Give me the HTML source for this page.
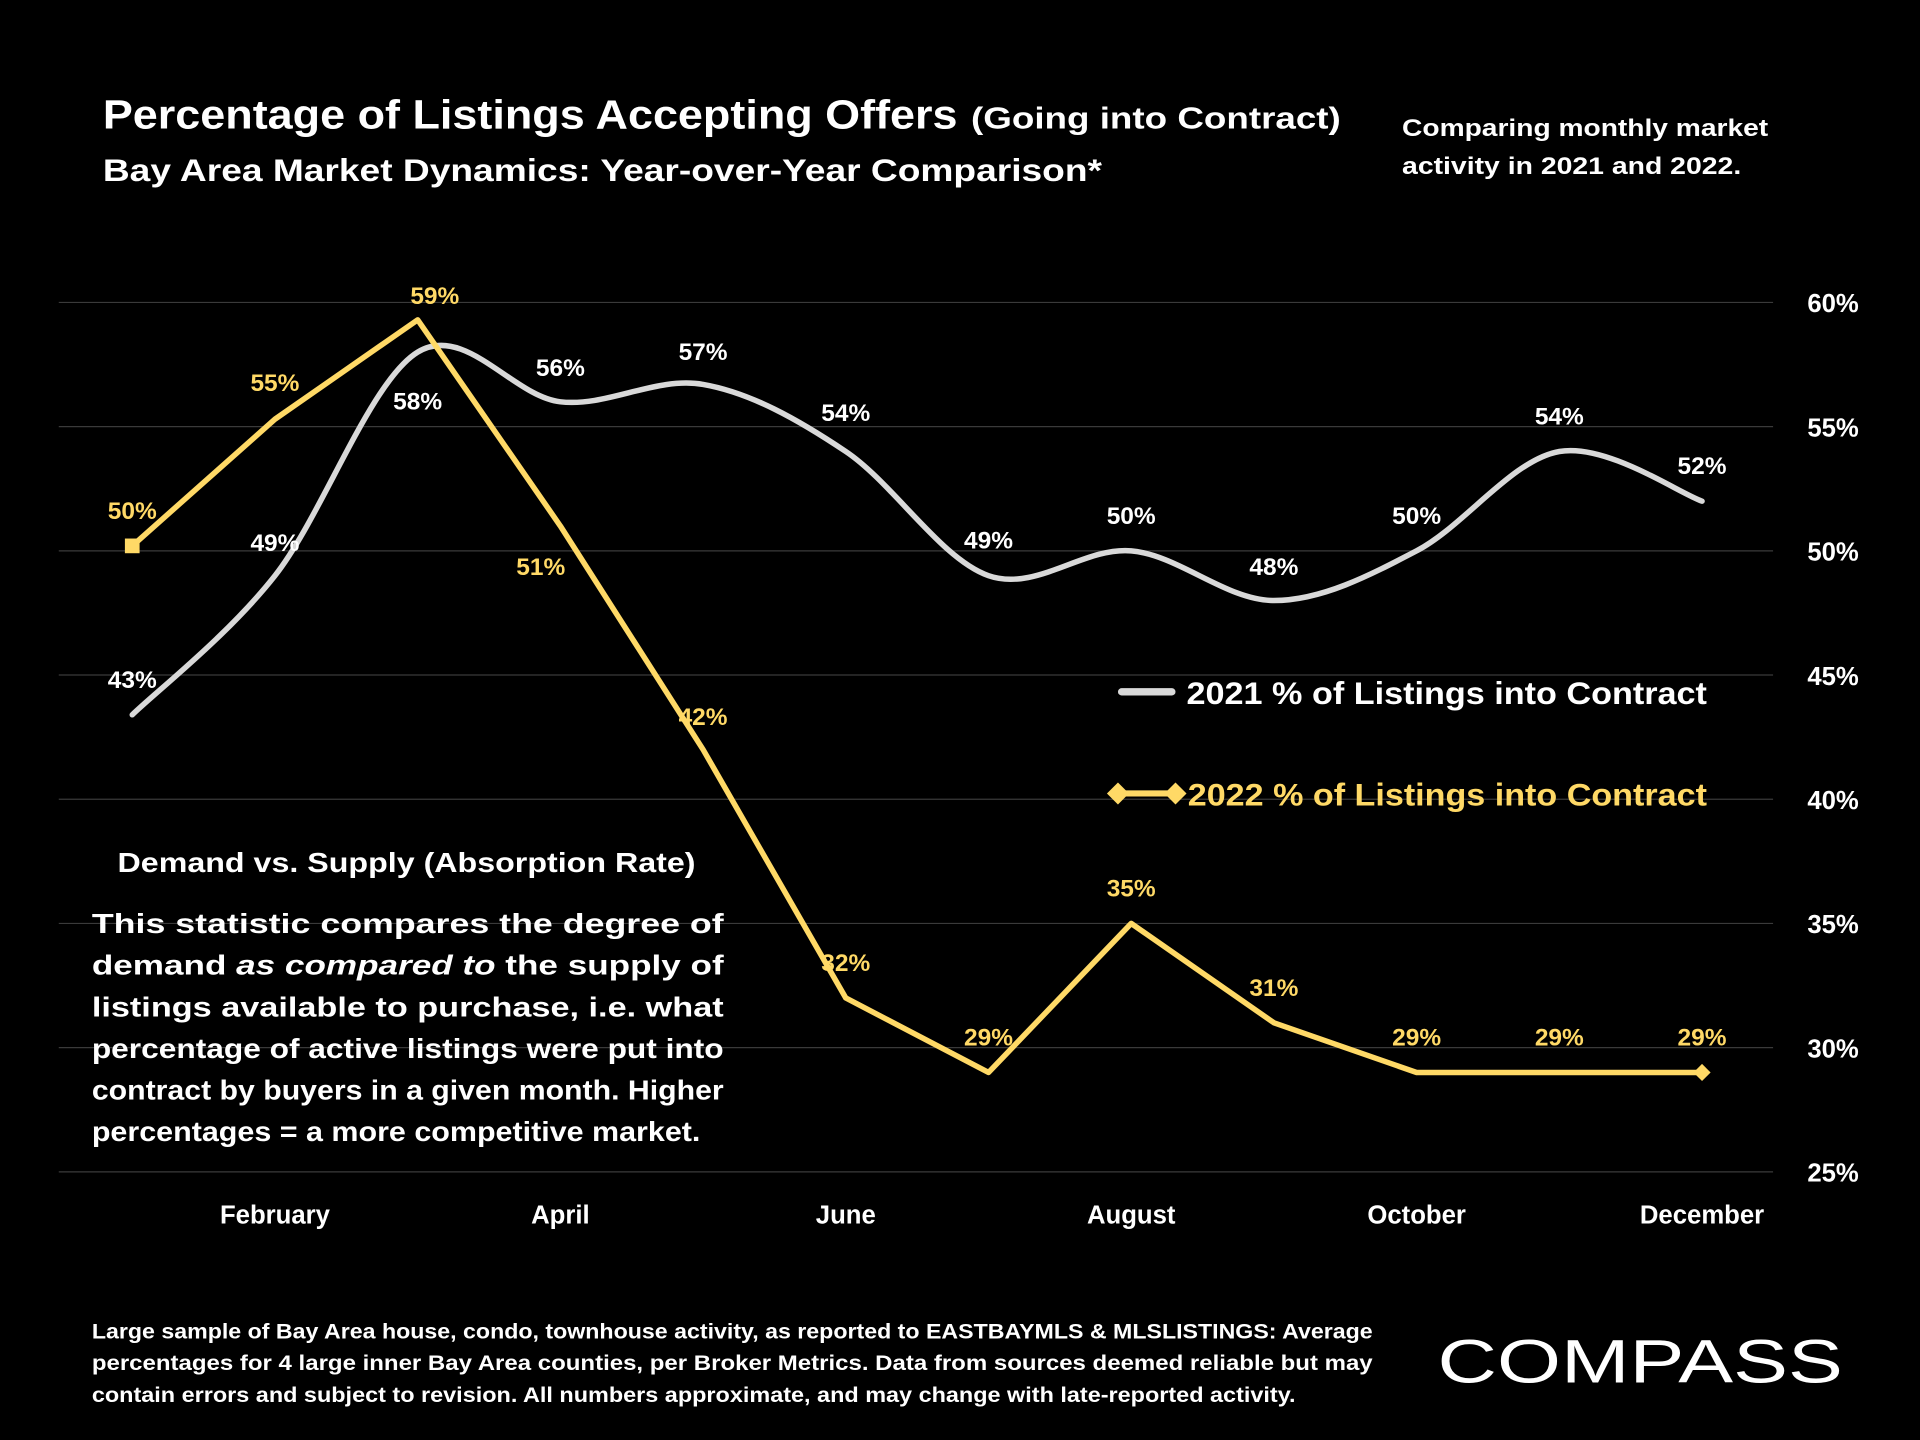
<!DOCTYPE html>
<html><head><meta charset="utf-8"><style>
html,body{margin:0;padding:0;background:#000;}
svg{display:block;}
text{font-family:"Liberation Sans",sans-serif;font-weight:bold;}
</style></head><body>
<svg id="chart" width="1920" height="1440" viewBox="0 0 1568 1176" xmlns="http://www.w3.org/2000/svg">
<rect x="0" y="0" width="1568" height="1176" fill="#000"/>
<text x="84" y="105" fill="#fff" font-size="33" textLength="698" lengthAdjust="spacingAndGlyphs">Percentage of Listings Accepting Offers</text>
<text x="793" y="105" fill="#fff" font-size="25" textLength="302" lengthAdjust="spacingAndGlyphs">(Going into Contract)</text>
<text x="84" y="148" fill="#fff" font-size="26" textLength="816" lengthAdjust="spacingAndGlyphs">Bay Area Market Dynamics: Year-over-Year Comparison*</text>
<text fill="#fff" font-size="20"><tspan x="1145" y="111" textLength="299" lengthAdjust="spacingAndGlyphs">Comparing monthly market</tspan><tspan x="1145" y="142" textLength="277" lengthAdjust="spacingAndGlyphs">activity in 2021 and 2022.</tspan></text>
<g id="grid"></g>
<g id="yaxis"></g>
<g id="xaxis"></g>
<g id="series"></g>
<g id="labels"></g>
<g>
<g>
<line x1="916" y1="565" x2="957" y2="565" stroke="#d9d9d9" stroke-width="6" stroke-linecap="round"/>
<text x="969" y="575" fill="#fff" font-size="26" textLength="425" lengthAdjust="spacingAndGlyphs">2021 % of Listings into Contract</text>
</g>
<g>
<line x1="913" y1="648" x2="960" y2="648" stroke="#ffd966" stroke-width="5"/>
<polygon points="904,648 913,639 922,648 913,657" fill="#ffd966"/>
<polygon points="951,648 960,639 969,648 960,657" fill="#ffd966"/>
<text x="970" y="658" fill="#ffd966" font-size="26" textLength="424" lengthAdjust="spacingAndGlyphs">2022 % of Listings into Contract</text>
</g>
</g>
<text x="96" y="712" fill="#fff" font-size="23" textLength="472" lengthAdjust="spacingAndGlyphs">Demand vs. Supply (Absorption Rate)</text>
<g fill="#fff" font-size="23">
<text x="75" y="762" textLength="516" lengthAdjust="spacingAndGlyphs">This statistic compares the degree of</text>
<text x="75" y="796" textLength="516" lengthAdjust="spacingAndGlyphs">demand <tspan font-style="italic">as compared to</tspan> the supply of</text>
<text x="75" y="830" textLength="516" lengthAdjust="spacingAndGlyphs">listings available to purchase, i.e. what</text>
<text x="75" y="864" textLength="516" lengthAdjust="spacingAndGlyphs">percentage of active listings were put into</text>
<text x="75" y="898" textLength="516" lengthAdjust="spacingAndGlyphs">contract by buyers in a given month. Higher</text>
<text x="75" y="932" textLength="497" lengthAdjust="spacingAndGlyphs">percentages = a more competitive market.</text>
</g>
<g fill="#fff" font-size="17">
<text x="75" y="1093" textLength="1046" lengthAdjust="spacingAndGlyphs">Large sample of Bay Area house, condo, townhouse activity, as reported to EASTBAYMLS &amp; MLSLISTINGS: Average</text>
<text x="75" y="1119" textLength="1046" lengthAdjust="spacingAndGlyphs">percentages for 4 large inner Bay Area counties, per Broker Metrics. Data from sources deemed reliable but may</text>
<text x="75" y="1145" textLength="983" lengthAdjust="spacingAndGlyphs">contain errors and subject to revision. All numbers approximate, and may change with late-reported activity.</text>
</g>
<text x="1174" y="1129" fill="#fff" font-size="50" style="font-weight:normal" textLength="331" lengthAdjust="spacingAndGlyphs">COMPASS</text>
</svg>
<script>
const months = ['January','February','March','April','May','June','July','August','September','October','November','December'];
const xTickLabels = ['February','April','June','August','October','December'];
const yTicks = [25,30,35,40,45,50,55,60];
const values2021 = [43.4,49,58,56,56.7,54,49,50,48,50,54,52];
const values2022 = [50.2,55.3,59.3,51,42,32,29,35,31,29,29,29];
const labels2021 = ['43%','49%','58%','56%','57%','54%','49%','50%','48%','50%','54%','52%'];
const labels2022 = ['50%','55%','59%','51%','42%','32%','29%','35%','31%','29%','29%','29%'];

const NS='http://www.w3.org/2000/svg';
const x = i => 108 + i*(1390-108)/11;
const y = v => 957 - (v-25)*(957-247)/35;
function mk(tag, attrs, parent){const e=document.createElementNS(NS,tag);for(const k in attrs)e.setAttribute(k,attrs[k]);parent.appendChild(e);return e;}
const grid=document.getElementById('grid'), yax=document.getElementById('yaxis'), xax=document.getElementById('xaxis'), ser=document.getElementById('series'), lab=document.getElementById('labels');
yTicks.forEach(t=>{
  const l=mk('line',{x1:48,x2:1448,y1:y(t),y2:y(t),stroke:'#3a3a3a','stroke-width':1},grid);
  
  
  const tx=mk('text',{x:1518,y:y(t)+8,'text-anchor':'end',fill:'#fff','font-size':21},yax);
  tx.textContent=t+'%';
  
  
});
xTickLabels.forEach(m=>{
  const i=months.indexOf(m);
  const tx=mk('text',{x:x(i),y:999,'text-anchor':'middle',fill:'#fff','font-size':21},xax);
  tx.textContent=m;
  
  
});
const p=values2021.map((v,i)=>[x(i),y(v)]);
let d='M'+p[0][0]+','+p[0][1];
for(let i=0;i<p.length-1;i++){
  const p0=p[Math.max(0,i-1)],p1=p[i],p2=p[i+1],p3=p[Math.min(p.length-1,i+2)];
  const c1=[p1[0]+(p2[0]-p0[0])/6,p1[1]+(p2[1]-p0[1])/6];
  const c2=[p2[0]-(p3[0]-p1[0])/6,p2[1]-(p3[1]-p1[1])/6];
  d+=` C${c1[0]},${c1[1]} ${c2[0]},${c2[1]} ${p2[0]},${p2[1]}`;
}
const l21=mk('path',{d:d,fill:'none',stroke:'#d9d9d9','stroke-width':4.5,'stroke-linecap':'round'},ser);


const l22=mk('polyline',{points:values2022.map((v,i)=>x(i)+','+y(v)).join(' '),fill:'none',stroke:'#ffd966','stroke-width':4.5,'stroke-linejoin':'round'},ser);


const sq=mk('rect',{x:x(0)-6,y:y(values2022[0])-6,width:12,height:12,fill:'#ffd966'},ser);


const xd=x(11), yd=y(values2022[11]);
const dm=mk('polygon',{points:`${xd-7},${yd} ${xd},${yd-7} ${xd+7},${yd} ${xd},${yd+7}`,fill:'#ffd966'},ser);


const off21=[[0,-29],[0,-27],[0,40],[0,-28],[0,-27],[0,-32],[0,-29],[0,-29],[0,-28],[0,-29],[0,-29],[0,-29]];
const off22=[[0,-29],[0,-30],[14,-20],[-16,33],[0,-27],[0,-29],[0,-29],[0,-29],[0,-29],[0,-29],[0,-29],[0,-29]];
labels2021.forEach((s,i)=>{
  const tx=mk('text',{x:x(i)+off21[i][0],y:y(values2021[i])+off21[i][1]+7,'text-anchor':'middle',fill:'#fff','font-size':20},lab);
  tx.textContent=s;
  
  
});
labels2022.forEach((s,i)=>{
  const tx=mk('text',{x:x(i)+off22[i][0],y:y(values2022[i])+off22[i][1]+7,'text-anchor':'middle',fill:'#ffd966','font-size':20},lab);
  tx.textContent=s;
  
  
});
</script>
</body></html>
